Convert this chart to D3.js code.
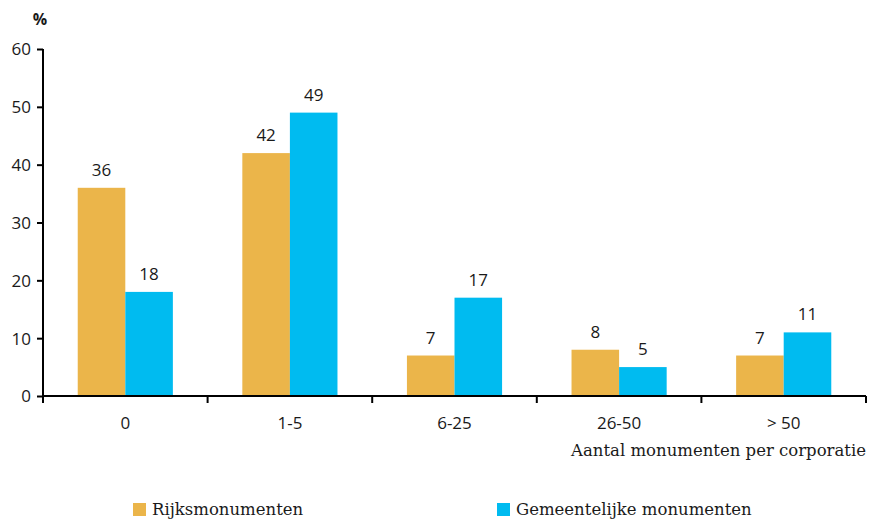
<!DOCTYPE html>
<html>
<head>
<meta charset="utf-8">
<script src="https://cdn.jsdelivr.net/npm/d3@7"></script>
<style>
  body { margin: 0; background: #fff; overflow: hidden; }
  svg { display: block; }
  .num { font-family: "Open Sans", sans-serif; font-size: 17px; fill: #1a1a1a; }
  .serif { font-family: "DejaVu Serif", serif; font-size: 16.5px; fill: #1a1a1a; }
</style>
</head>
<body>
<svg width="869" height="520"></svg>
<script>
const svg = d3.select('svg');

const categories = ['0', '1-5', '6-25', '26-50', '> 50'];
const seriesNames = ['Rijksmonumenten', 'Gemeentelijke monumenten'];
const rijks = [36, 42, 7, 8, 7];
const gemeente = [18, 49, 17, 5, 11];
const yTicks = [0, 10, 20, 30, 40, 50, 60];
const colors = ['#ebb54a', '#00bbf0'];

const margin = { left: 43, right: 3, top: 49, bottom: 124 };
const innerWidth = 869 - margin.left - margin.right;
const innerHeight = 520 - margin.top - margin.bottom;

const data = categories.map((c, i) => ({ cat: c, values: [rijks[i], gemeente[i]] }));

const x = d3.scaleBand().domain(categories).range([0, innerWidth]);
const x1 = d3.scaleBand().domain([0, 1]).range([0, x.bandwidth()]).paddingOuter(0.73).paddingInner(0);
const y = d3.scaleLinear().domain([0, 60]).range([innerHeight, 0]);

const g = svg.append('g').attr('transform', `translate(${margin.left},${margin.top})`);

// bars
const groups = g.selectAll('.grp').data(data).enter().append('g')
  .attr('transform', d => `translate(${x(d.cat)},0)`);

groups.selectAll('rect').data(d => d.values).enter().append('rect')
  .attr('x', (d, i) => x1(i))
  .attr('width', x1.bandwidth())
  .attr('y', d => y(d))
  .attr('height', d => innerHeight - y(d))
  .attr('fill', (d, i) => colors[i]);

groups.selectAll('.lbl').data(d => d.values).enter().append('text')
  .attr('class', 'num')
  .attr('x', (d, i) => x1(i) + x1.bandwidth() / 2)
  .attr('y', d => y(d) - 12)
  .attr('text-anchor', 'middle')
  .text(d => d);

// y axis
const yAxis = g.append('g').call(d3.axisLeft(y).tickValues(yTicks).tickSize(6).tickPadding(6));
yAxis.attr('font-size', null).attr('font-family', null);
yAxis.selectAll('text').attr('class', 'num').attr('fill', null).attr('dy', '0.35em');
yAxis.selectAll('path, line').attr('stroke', '#000').attr('stroke-width', 2);
yAxis.select('.domain').attr('d', `M0,${innerHeight}V0`);

// x axis with ticks at band boundaries
const xAxisG = g.append('g').attr('transform', `translate(0,${innerHeight})`);
xAxisG.append('line').attr('x1', 0).attr('x2', innerWidth)
  .attr('stroke', '#000').attr('stroke-width', 2);
const bounds = categories.map(c => x(c)).concat([x.range()[1]]);
xAxisG.selectAll('.tk').data(bounds).enter().append('line')
  .attr('x1', d => d).attr('x2', d => d).attr('y1', 0).attr('y2', 7)
  .attr('stroke', '#000').attr('stroke-width', 2);
xAxisG.selectAll('.cl').data(categories).enter().append('text')
  .attr('class', 'num')
  .attr('x', d => x(d) + x.bandwidth() / 2)
  .attr('y', 33)
  .attr('text-anchor', 'middle')
  .text(d => d);

// axis titles
svg.append('text').attr('class', 'num')
  .attr('x', 40).attr('y', 25).attr('text-anchor', 'middle')
  .attr('font-weight', 'bold').style('font-size', '16px').text('%');

svg.append('text').attr('class', 'serif')
  .attr('x', 866).attr('y', 456).attr('text-anchor', 'end')
  .text('Aantal monumenten per corporatie');

// legend
const legendX = [133, 497];
const legend = svg.selectAll('.leg').data(seriesNames).enter().append('g')
  .attr('transform', (d, i) => `translate(${legendX[i]},503)`);
legend.append('rect').attr('width', 13).attr('height', 13).attr('fill', (d, i) => colors[i]);
legend.append('text').attr('class', 'serif').attr('x', 19).attr('y', 12).text(d => d);
</script>
</body>
</html>
